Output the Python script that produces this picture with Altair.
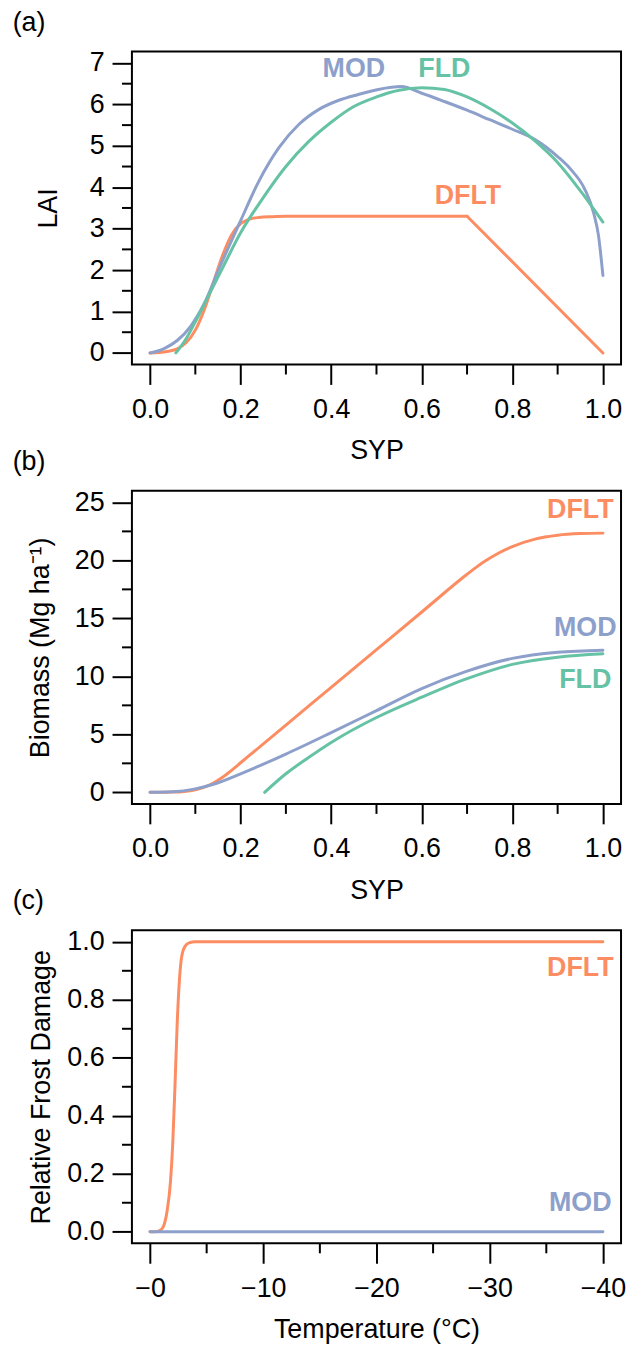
import altair as alt
import pandas as pd

FONT = "Liberation Sans"
FS = 27
C_MOD = "#8DA0CB"
C_FLD = "#66C2A5"
C_DFLT = "#FC8D62"
W, H = 492, 315
LW = 3

# ---------------- Panel (a): LAI vs SYP ----------------
a_dflt_x = [0, 0.02, 0.04, 0.06, 0.08, 0.10, 0.12, 0.14, 0.16, 0.18, 0.20, 0.22, 0.24, 0.27, 0.30, 0.50, 0.70, 1.00]
a_dflt_y = [0, 0.01, 0.04, 0.10, 0.25, 0.55, 1.05, 1.70, 2.35, 2.85, 3.12, 3.23, 3.27, 3.29, 3.30, 3.30, 3.30, 0.0]
a_mod_x = [0, 0.03, 0.06, 0.09, 0.12, 0.153, 0.197, 0.241, 0.285, 0.329, 0.373, 0.417, 0.46, 0.504, 0.555,
           0.60, 0.65, 0.70, 0.75, 0.80, 0.85, 0.90, 0.93, 0.96, 0.98, 0.99, 1.00]
a_mod_y = [0, 0.10, 0.30, 0.65, 1.20, 2.05, 3.12, 4.16, 4.96, 5.52, 5.88, 6.10, 6.24, 6.36, 6.43,
           6.27, 6.07, 5.86, 5.63, 5.40, 5.15, 4.74, 4.42, 3.95, 3.36, 2.85, 1.87]
a_fld_x = [0.057, 0.08, 0.10, 0.13, 0.16, 0.20, 0.25, 0.30, 0.35, 0.40, 0.45, 0.50, 0.55, 0.60,
           0.65, 0.70, 0.75, 0.80, 0.85, 0.90, 0.95, 1.00]
a_fld_y = [0.0, 0.35, 0.75, 1.40, 2.05, 2.90, 3.75, 4.50, 5.10, 5.57, 5.95, 6.18, 6.34, 6.40,
           6.36, 6.18, 5.90, 5.55, 5.12, 4.60, 3.92, 3.16]

# ---------------- Panel (b): Biomass vs SYP ----------------
b_dflt_x = [0, 0.05, 0.08, 0.10, 0.12, 0.14, 0.16, 0.18, 0.20, 0.22, 0.30, 0.40, 0.50, 0.60,
            0.70, 0.72, 0.74, 0.77, 0.80, 0.85, 0.90, 0.95, 1.00]
b_dflt_y = [0, 0.02, 0.10, 0.22, 0.45, 0.80, 1.30, 1.90, 2.55, 3.20, 5.80, 9.05, 12.30, 15.55,
            18.80, 19.40, 19.94, 20.64, 21.19, 21.83, 22.17, 22.31, 22.35]
b_mod_x = [0, 0.05, 0.10, 0.14, 0.20, 0.30, 0.40, 0.50, 0.60, 0.70, 0.80, 0.90, 1.00]
b_mod_y = [0, 0.05, 0.30, 0.70, 1.60, 3.30, 5.15, 7.05, 8.95, 10.45, 11.55, 12.08, 12.26]
b_fld_x = [0.253, 0.30, 0.35, 0.40, 0.50, 0.60, 0.70, 0.80, 0.90, 1.00]
b_fld_y = [0.0, 1.60, 3.00, 4.30, 6.45, 8.20, 9.80, 11.03, 11.65, 11.95]

# ---------------- Panel (c): Frost damage vs Temperature ----------------
c_dflt_x = [0, -0.5, -0.9, -1.2, -1.5, -1.8, -2.0, -2.2, -2.4, -2.6, -2.8, -3.1, -3.5, -4.0, -10, -20, -30, -40]
c_dflt_y = [0, 0.0, 0.005, 0.02, 0.07, 0.17, 0.30, 0.50, 0.72, 0.87, 0.95, 0.985, 0.997, 1.0, 1.0, 1.0, 1.0, 1.0]
c_mod_x = [0, -10, -20, -30, -40]
c_mod_y = [0, 0, 0, 0, 0]

# curve labels
a_lab_text = ["MOD", "FLD", "DFLT"]
a_lab_x = [0.45, 0.65, 0.702]
a_lab_y = [6.86, 6.86, 3.79]
a_lab_col = [C_MOD, C_FLD, C_DFLT]
b_lab_text = ["DFLT", "MOD", "FLD"]
b_lab_x = [0.95, 0.961, 0.961]
b_lab_y = [24.37, 14.15, 9.68]
b_lab_col = [C_DFLT, C_MOD, C_FLD]
c_lab_text = ["DFLT", "MOD"]
c_lab_x = [-38.0, -38.0]
c_lab_y = [0.91, 0.10]
c_lab_col = [C_DFLT, C_MOD]

# axes ticks
syp_ticks = [0, 0.2, 0.4, 0.6, 0.8, 1.0]
syp_minor = [0.1, 0.3, 0.5, 0.7, 0.9]
a_yticks = [0, 1, 2, 3, 4, 5, 6, 7]
a_yminor = [0.5, 1.5, 2.5, 3.5, 4.5, 5.5, 6.5]
b_yticks = [0, 5, 10, 15, 20, 25]
b_yminor = [2.5, 7.5, 12.5, 17.5, 22.5]
c_xticks = [0, -10, -20, -30, -40]
c_xminor = [-5, -15, -25, -35]
c_yticks = [0, 0.2, 0.4, 0.6, 0.8, 1.0]
c_yminor = [0.1, 0.3, 0.5, 0.7, 0.9]


def xaxis(values, title, fmt=None, expr=None):
    kw = dict(values=values, title=title, tickSize=20, tickWidth=2, tickColor="black",
              domain=False, grid=False, labelFont=FONT, labelFontSize=FS, labelColor="black",
              labelBaseline="alphabetic", labelAlign="center", labelPadding=33,
              labelFlush=False, labelOverlap=False, labelBound=False,
              titleFont=FONT, titleFontSize=FS, titleFontWeight="normal", titleColor="black",
              titleX=W / 2, titleY=95, titleBaseline="alphabetic", titleAlign="center")
    if fmt:
        kw["format"] = fmt
    if expr:
        kw["labelExpr"] = expr
    return alt.Axis(**kw)


def yaxis(values, title, fmt, title_x):
    return alt.Axis(values=values, title=title, format=fmt, tickSize=20, tickWidth=2,
                    tickColor="black", domain=False, grid=False, labelFont=FONT,
                    labelFontSize=FS, labelColor="black", labelAlign="right",
                    labelBaseline="middle", labelPadding=8, labelOverlap=False,
                    labelFlush=False, labelBound=False,
                    titleFont=FONT, titleFontSize=FS, titleFontWeight="normal",
                    titleColor="black", titleX=title_x, titleY=H / 2, titleAngle=270,
                    titleBaseline="alphabetic", titleAlign="center")


def line(xs, ys, color, xs_, ys_, xax, yax, interp="monotone", flt=None):
    df = pd.DataFrame({"x": xs, "y": ys})
    ch = alt.Chart(df)
    if flt is not None:
        ch = ch.transform_filter(flt)
    return ch.mark_line(color=color, strokeWidth=LW, interpolate=interp,
                        strokeCap="round", strokeJoin="round", clip=False).encode(
        x=alt.X("x:Q", scale=xs_, axis=xax),
        y=alt.Y("y:Q", scale=ys_, axis=yax),
    )


def labels(texts, xs, ys, cols, xs_, ys_, xax, yax):
    df = pd.DataFrame({"t": texts, "x": xs, "y": ys, "c": cols})
    return alt.Chart(df).mark_text(font=FONT, fontSize=FS, fontWeight="bold",
                                   align="center", baseline="middle").encode(
        x=alt.X("x:Q", scale=xs_, axis=xax),
        y=alt.Y("y:Q", scale=ys_, axis=yax),
        text="t:N",
        color=alt.Color("c:N", scale=None),
    )


def minor_y(vals, ys_, yax):
    return alt.Chart(pd.DataFrame({"y": vals})).mark_rule(color="black", strokeWidth=2).encode(
        y=alt.Y("y:Q", scale=ys_, axis=yax), x=alt.value(-10), x2=alt.value(0))


def minor_x(vals, xs_, xax):
    return alt.Chart(pd.DataFrame({"x": vals})).mark_rule(color="black", strokeWidth=2).encode(
        x=alt.X("x:Q", scale=xs_, axis=xax), y=alt.value(H), y2=alt.value(H + 10))


def tag(t):
    return alt.Chart(pd.DataFrame({"t": [t]})).mark_text(
        font=FONT, fontSize=FS, align="left", baseline="alphabetic", color="black").encode(
        text="t:N", x=alt.value(-120), y=alt.value(-21))


# scales
sx_syp = alt.Scale(domain=[-0.04, 1.04], nice=False, zero=False)
sy_a = alt.Scale(domain=[-0.28, 7.28], nice=False, zero=False)
sy_b = alt.Scale(domain=[-1, 26], nice=False, zero=False)
sx_c = alt.Scale(domain=[-41.6, 1.6], nice=False, zero=False, reverse=True)
sy_c = alt.Scale(domain=[-0.04, 1.04], nice=False, zero=False)

# axes
ax_xa = xaxis(syp_ticks, "SYP", fmt=".1f")
ax_ya = yaxis(a_yticks, "LAI", "d", -75.7)
ax_xb = xaxis(syp_ticks, "SYP", fmt=".1f")
ax_yb = yaxis(b_yticks, "Biomass (Mg ha\u207b\u00b9)", "d", -83.7)
ax_xc = xaxis(c_xticks, "Temperature (\u00b0C)", expr="'\u2212' + format(abs(datum.value), 'd')")
ax_yc = yaxis(c_yticks, "Relative Frost Damage", ".1f", -82.7)

pa = alt.layer(
    line(a_dflt_x, a_dflt_y, C_DFLT, sx_syp, sy_a, ax_xa, ax_ya, flt="datum.x <= 0.7"),
    line(a_dflt_x, a_dflt_y, C_DFLT, sx_syp, sy_a, ax_xa, ax_ya, interp="linear", flt="datum.x >= 0.7"),
    line(a_mod_x, a_mod_y, C_MOD, sx_syp, sy_a, ax_xa, ax_ya),
    line(a_fld_x, a_fld_y, C_FLD, sx_syp, sy_a, ax_xa, ax_ya),
    labels(a_lab_text, a_lab_x, a_lab_y, a_lab_col, sx_syp, sy_a, ax_xa, ax_ya),
    minor_y(a_yminor, sy_a, ax_ya),
    minor_x(syp_minor, sx_syp, ax_xa),
    tag("(a)"),
).properties(width=W, height=H)

pb = alt.layer(
    line(b_dflt_x, b_dflt_y, C_DFLT, sx_syp, sy_b, ax_xb, ax_yb),
    line(b_mod_x, b_mod_y, C_MOD, sx_syp, sy_b, ax_xb, ax_yb),
    line(b_fld_x, b_fld_y, C_FLD, sx_syp, sy_b, ax_xb, ax_yb),
    labels(b_lab_text, b_lab_x, b_lab_y, b_lab_col, sx_syp, sy_b, ax_xb, ax_yb),
    minor_y(b_yminor, sy_b, ax_yb),
    minor_x(syp_minor, sx_syp, ax_xb),
    tag("(b)"),
).properties(width=W, height=H)

pc = alt.layer(
    line(c_dflt_x, c_dflt_y, C_DFLT, sx_c, sy_c, ax_xc, ax_yc),
    line(c_mod_x, c_mod_y, C_MOD, sx_c, sy_c, ax_xc, ax_yc, interp="linear"),
    labels(c_lab_text, c_lab_x, c_lab_y, c_lab_col, sx_c, sy_c, ax_xc, ax_yc),
    minor_y(c_yminor, sy_c, ax_yc),
    minor_x(c_xminor, sx_c, ax_xc),
    tag("(c)"),
).properties(width=W, height=H)

chart = alt.vconcat(pa, pb, pc, spacing=127, bounds="flush").properties(
    padding={"left": 11.7, "top": 3.7, "right": 0, "bottom": 5}
).configure_view(stroke="black", strokeWidth=2)

chart.save("out.html", embed_options={"renderer": "svg", "actions": False})
